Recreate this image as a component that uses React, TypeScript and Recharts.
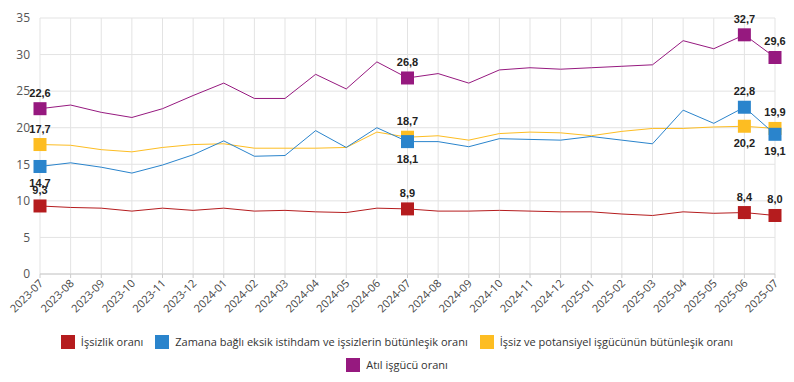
import React from 'react';
import { LineChart, Line, XAxis, YAxis, CartesianGrid, Legend } from 'recharts';

const months = ['2023-07','2023-08','2023-09','2023-10','2023-11','2023-12','2024-01','2024-02','2024-03','2024-04','2024-05','2024-06','2024-07','2024-08','2024-09','2024-10','2024-11','2024-12','2025-01','2025-02','2025-03','2025-04','2025-05','2025-06','2025-07'];
const issizlik = [9.3,9.1,9.0,8.6,9.0,8.7,9.0,8.6,8.7,8.5,8.4,9.0,8.9,8.6,8.6,8.7,8.6,8.5,8.5,8.2,8.0,8.5,8.3,8.4,8.0];
const zamana = [14.7,15.2,14.6,13.8,14.9,16.3,18.2,16.1,16.2,19.6,17.3,20.0,18.1,18.1,17.4,18.5,18.4,18.3,18.8,18.3,17.8,22.4,20.6,22.8,19.1];
const potansiyel = [17.7,17.6,17.0,16.7,17.3,17.7,17.8,17.2,17.2,17.2,17.3,19.4,18.7,18.9,18.3,19.2,19.4,19.3,18.9,19.5,19.9,19.9,20.1,20.2,19.9];
const atil = [22.6,23.1,22.1,21.4,22.6,24.4,26.1,24.0,24.0,27.3,25.3,29.0,26.8,27.4,26.1,27.9,28.2,28.0,28.2,28.4,28.6,31.9,30.8,32.7,29.6];
const yTicks = [0,5,10,15,20,25,30,35];
const highlighted = [0, 12, 23, 24];

const series = [
  { key: 'issizlik', name: 'İşsizlik oranı', color: '#b51c1e', below: [] as number[] },
  { key: 'zamana', name: 'Zamana bağlı eksik istihdam ve işsizlerin bütünleşik oranı', color: '#2a84cc', below: [0, 12, 24] },
  { key: 'potansiyel', name: 'İşsiz ve potansiyel işgücünün bütünleşik oranı', color: '#fdbd22', below: [23] },
  { key: 'atil', name: 'Atıl işgücü oranı', color: '#96197f', below: [] as number[] },
];
// drawing order (blue drawn over yellow)
const drawOrder = ['issizlik', 'potansiyel', 'zamana', 'atil'];

const data = months.map((m, i) => ({
  month: m,
  issizlik: issizlik[i],
  zamana: zamana[i],
  potansiyel: potansiyel[i],
  atil: atil[i],
}));

const fmt = (v: number) => v.toFixed(1).replace('.', ',');

const makeDot = (color: string, below: number[]) => (props: any) => {
  const { cx, cy, index, value } = props;
  if (!highlighted.includes(index) || cx == null) return <g key={`d${index}`} />;
  const v = Array.isArray(value) ? value[1] : value;
  const isBelow = below.includes(index);
  return (
    <g key={`d${index}`}>
      <rect x={cx - 6.5} y={cy - 6.5} width={13} height={13} fill={color} />
      <text
        x={cx}
        y={isBelow ? cy + 21 : cy - 12}
        textAnchor="middle"
        fontFamily="'Liberation Sans', Arial, sans-serif"
        fontWeight="bold"
        fontSize={11}
        fill="#222"
      >
        {fmt(v)}
      </text>
    </g>
  );
};

const XTick = (props: any) => {
  const { x, y, payload } = props;
  return (
    <text
      transform={`translate(${x + 4},${y + 4}) rotate(-45)`}
      textAnchor="end"
      fontSize={11}
      fill="#444"
      fontFamily="'Open Sans', sans-serif"
    >
      {payload.value}
    </text>
  );
};

const LegendContent = () => (
  <div
    style={{
      height: 52,
      width: 794,
      display: 'flex',
      flexWrap: 'wrap',
      justifyContent: 'center',
      alignContent: 'flex-start',
      padding: '0 50px',
      boxSizing: 'border-box',
      fontFamily: "'Open Sans', sans-serif",
      fontSize: 11,
      color: '#333',
    }}
  >
    {series.map((s) => (
      <div key={s.key} style={{ display: 'flex', alignItems: 'center', height: 23, margin: '0 6px' }}>
        <span style={{ display: 'inline-block', width: 14, height: 14, background: s.color, marginRight: 6 }} />
        <span>{s.name}</span>
      </div>
    ))}
  </div>
);

export default function App() {
  const ordered = drawOrder.map((k) => series.find((s) => s.key === k)!);
  return (
    <div style={{ position: 'absolute', left: 0, top: 0, background: '#fff' }}>
      <LineChart width={794} height={382} data={data} margin={{ top: 18, right: 19, left: 0, bottom: 0 }}>
        <CartesianGrid stroke="#e3e3e3" />
        <XAxis
          dataKey="month"
          interval={0}
          height={56}
          tick={<XTick />}
          tickLine={{ stroke: '#ccc' }}
          tickSize={4}
          axisLine={{ stroke: '#ccc' }}
        />
        <YAxis
          domain={[0, 35]}
          ticks={yTicks}
          width={40}
          axisLine={false}
          tickLine={false}
          tickMargin={4}
          tick={{ fontSize: 12, fill: '#555', fontFamily: "'Open Sans', sans-serif" }}
        />
        <Legend verticalAlign="bottom" content={<LegendContent />} />
        {ordered.map((s) => (
          <Line
            key={s.key}
            type="linear"
            dataKey={s.key}
            name={s.name}
            stroke={s.color}
            strokeWidth={1}
            dot={makeDot(s.color, s.below)}
            activeDot={false}
            isAnimationActive={false}
          />
        ))}
      </LineChart>
    </div>
  );
}
